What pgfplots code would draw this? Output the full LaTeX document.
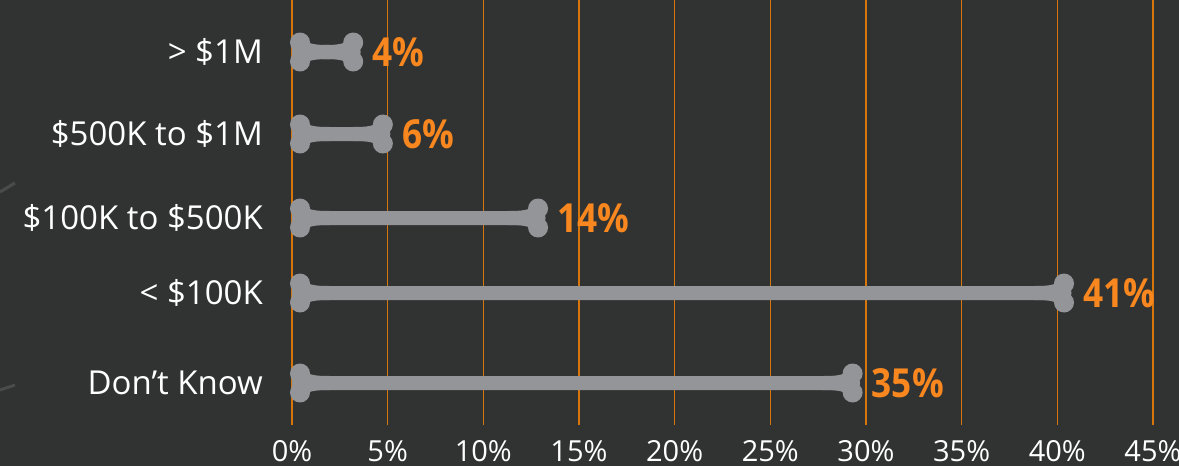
\documentclass[border=0pt]{standalone}
\usepackage{pgfplots}
\pgfplotsset{compat=1.18}
\usepackage{pgfplotstable}
\usepackage{fontspec}
\setmainfont{Open Sans}
\newfontfamily\valfont{Open Sans}[FakeStretch=0.88]

\definecolor{bg}{HTML}{313232}
\definecolor{bone}{HTML}{939598}
\definecolor{gridorange}{HTML}{D8760C}
\definecolor{valorange}{HTML}{F7871E}
\definecolor{stray}{HTML}{4A4B4B}

% bone ends: two lobes, a small middle lobe and a flare into the shaft
\pgfdeclareplotmark{boneR}{%
  \pgfpathcircle{\pgfpoint{0pt}{9.5pt}}{10pt}\pgfusepathqfill
  \pgfpathcircle{\pgfpoint{0pt}{-9.5pt}}{10pt}\pgfusepathqfill
  \pgfpathcircle{\pgfpoint{-1.5pt}{0pt}}{9pt}\pgfusepathqfill
  \pgfpathmoveto{\pgfpoint{-3pt}{13pt}}
  \pgfpathcurveto{\pgfpoint{-9pt}{8pt}}{\pgfpoint{-14pt}{7pt}}{\pgfpoint{-30pt}{7pt}}
  \pgfpathlineto{\pgfpoint{-30pt}{-7pt}}
  \pgfpathcurveto{\pgfpoint{-14pt}{-7pt}}{\pgfpoint{-9pt}{-8pt}}{\pgfpoint{-3pt}{-13pt}}
  \pgfpathclose\pgfusepathqfill}
\pgfdeclareplotmark{boneL}{%
  \pgfpathcircle{\pgfpoint{0pt}{9.5pt}}{10pt}\pgfusepathqfill
  \pgfpathcircle{\pgfpoint{0pt}{-9.5pt}}{10pt}\pgfusepathqfill
  \pgfpathcircle{\pgfpoint{1.5pt}{0pt}}{9pt}\pgfusepathqfill
  \pgfpathmoveto{\pgfpoint{3pt}{13pt}}
  \pgfpathcurveto{\pgfpoint{9pt}{8pt}}{\pgfpoint{14pt}{7pt}}{\pgfpoint{30pt}{7pt}}
  \pgfpathlineto{\pgfpoint{30pt}{-7pt}}
  \pgfpathcurveto{\pgfpoint{14pt}{-7pt}}{\pgfpoint{9pt}{-8pt}}{\pgfpoint{3pt}{-13pt}}
  \pgfpathclose\pgfusepathqfill}

% row = bar centre (px from top), len = drawn length, lab = printed value
\pgfplotstableread{
row start len   lab
52  0.42  3.20  4
134 0.42  4.75  6
218 0.42  12.86 14
293 0.42  40.35 41
383 0.42  29.30 35
}\bones

\begin{document}
\begin{tikzpicture}
\path[use as bounding box] (0,0) rectangle (1179pt,466pt);
\clip (0,0) rectangle (1179pt,466pt);
\fill[bg] (0,0) rectangle (1179pt,466pt);
\draw[stray, line width=3pt] (0pt,274pt) -- (15pt,283pt);
\draw[stray, line width=3pt] (0pt,76pt) -- (15pt,81pt);

\begin{axis}[
  at={(292pt,41pt)}, anchor=south west,
  scale only axis, width=861pt, height=425pt,
  xmin=0, xmax=45, ymin=0, ymax=425, y dir=reverse,
  axis line style={draw=none},
  major tick length=0pt,
  xtick={0,5,...,45},
  xticklabels={0\%,5\%,10\%,15\%,20\%,25\%,30\%,35\%,40\%,45\%},
  xmajorgrids,
  major grid style={draw=gridorange, line width=1.5pt},
  ytick={52,134,218,293,383},
  yticklabels={> \$1M, \$500K to \$1M, \$100K to \$500K, < \$100K, Don’t Know},
  xticklabel style={anchor=base, inner sep=0pt, text depth=0pt, yshift=-36pt,
    font=\fontsize{29}{34}\selectfont, text=white},
  yticklabel style={anchor=base east, inner sep=0pt, xshift=-29pt, yshift=-11.5pt,
    font=\fontsize{33}{38}\selectfont, text=white},
]
\addplot[xbar, bar width=14pt, fill=bone, draw=none] table[x=len, y=row] {\bones};
\addplot[only marks, mark=boneL, color=bone] table[x=start, y=row] {\bones};
\addplot[only marks, mark=boneR, color=bone,
  point meta=explicit symbolic,
  nodes near coords={\pgfplotspointmeta\%},
  every node near coord/.append style={anchor=base west, inner sep=0pt,
    xshift=19pt, yshift=-14pt, text=valorange,
    font=\valfont\bfseries\fontsize{40}{46}\selectfont}]
  table[x=len, y=row, meta=lab] {\bones};
\end{axis}
\end{tikzpicture}
\end{document}
